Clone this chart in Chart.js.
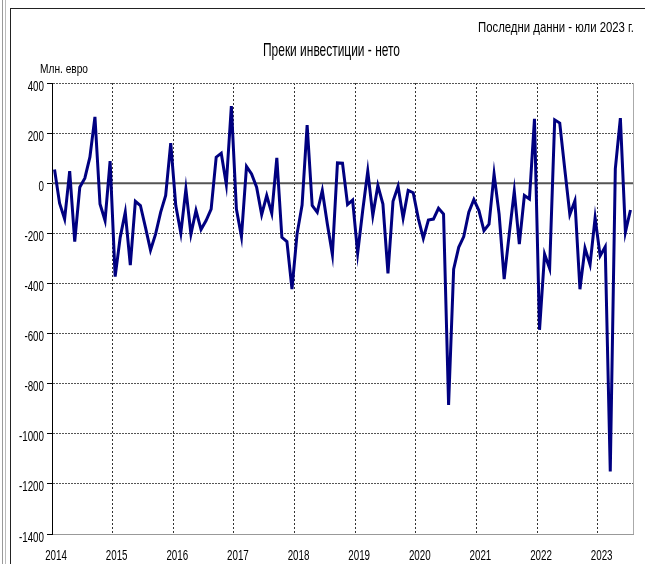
<!DOCTYPE html>
<html><head><meta charset="utf-8">
<script src="https://cdn.jsdelivr.net/npm/chart.js@4/dist/chart.umd.min.js"></script>
<style>
html,body{margin:0;padding:0;background:#fff;}
#wrap{position:relative;width:645px;height:564px;overflow:hidden;background:#fff;}
canvas{position:absolute;left:0;top:0;}
.t{position:absolute;font-family:"Liberation Sans",Arial,sans-serif;color:#000;white-space:nowrap;line-height:1;transform-origin:0 0;}
#frame{position:absolute;left:10px;top:8px;width:700px;height:700px;border-left:1px solid #222;border-top:1px solid #222;}
#edge{position:absolute;left:2px;top:0;width:2px;height:564px;border-left:1px solid #999;border-right:1px solid #bbb;}
</style></head>
<body><div id="wrap">
<div id="edge"></div><div id="frame"></div>
<canvas id="c" width="645" height="564"></canvas>
<div class="t" id="note" data-w="156" style="left:478px;top:19px;font-size:15px;">Последни данни - юли 2023 г.</div>
<div class="t" id="title" data-w="137" style="left:263px;top:40px;font-size:19px;">Преки инвестиции - нето</div>
<div class="t" id="unit" data-w="48" style="left:40px;top:62px;font-size:13px;">Млн. евро</div>
</div>
<script>
const years = ['2014','2015','2016','2017','2018','2019','2020','2021','2022','2023'];
const v2014 = [55, -80, -143, 48, -233, -16, 20, 104, 265, -83, -149, 88];
const v2015 = [-373, -216, -116, -327, -72, -89, -176, -267, -203, -116, -49, 160];
const v2016 = [-89, -199, -23, -203, -109, -185, -149, -103, 104, 120, -5, 308];
const v2017 = [-103, -213, 67, 37, -16, -125, -49, -120, 101, -216, -233, -423];
const v2018 = [-203, -87, 232, -89, -116, -29, -163, -285, 81, 80, -85, -67];
const v2019 = [-279, -109, 48, -129, -9, -83, -360, -72, -12, -139, -29, -38];
const v2020 = [-140, -220, -147, -143, -100, -123, -885, -343, -256, -213, -116, -65];
const v2021 = [-109, -189, -163, 37, -123, -383, -203, -32, -243, -49, -63, 257];
const v2022 = [-585, -283, -340, 253, 240, 55, -125, -70, -423, -259, -325, -138];
const v2023 = [-290, -254, -1150, 57, 260, -195, -107];
const yTicks = [400, 200, 0, -200, -400, -600, -800, -1000, -1200, -1400];

const series = [v2014,v2015,v2016,v2017,v2018,v2019,v2020,v2021,v2022,v2023];
const values = [].concat(...series);
const labels = [];
series.forEach((arr, yi) => arr.forEach((_, m) => labels.push(m === 0 ? years[yi] : '')));

const FONT = '"Liberation Sans", Arial, sans-serif';

(function(){
  const mc = document.createElement('canvas').getContext('2d');
  document.querySelectorAll('.t').forEach(el => {
    const fs = parseFloat(el.style.fontSize);
    mc.font = fs + 'px ' + FONT;
    const w = mc.measureText(el.textContent).width;
    el.style.transform = 'scaleX(' + (parseFloat(el.dataset.w) / w) + ')';
  });
})();

const SQ = 0.7;

const extras = {
  id: 'extras',
  beforeDatasetsDraw(chart) {
    const {ctx, chartArea: a, scales: {y}} = chart;
    ctx.save();
    const y0 = y.getPixelForValue(0);
    ctx.strokeStyle = '#555';
    ctx.lineWidth = 2;
    ctx.beginPath(); ctx.moveTo(a.left, y0); ctx.lineTo(a.right, y0); ctx.stroke();
    ctx.strokeStyle = '#aaa';
    ctx.lineWidth = 1;
    ctx.beginPath(); ctx.moveTo(a.right + 0.5, a.top); ctx.lineTo(a.right + 0.5, a.bottom); ctx.stroke();
    ctx.restore();
  },
  afterDraw(chart) {
    const {ctx, chartArea: a, scales: {x, y}} = chart;
    ctx.save();
    ctx.fillStyle = '#000';
    ctx.font = '14px ' + FONT;
    ctx.textBaseline = 'alphabetic';
    ctx.textAlign = 'right';
    yTicks.forEach(v => {
      const py = y.getPixelForValue(v);
      ctx.save();
      ctx.translate(a.left - 8, py + 7.5);
      ctx.scale(SQ, 1);
      ctx.fillText(String(v), 0, 0);
      ctx.restore();
    });
    ctx.textAlign = 'center';
    labels.forEach((lab, i) => {
      if (!lab) return;
      const px = x.getPixelForTick(i) + 1.5;
      ctx.save();
      ctx.translate(px, a.bottom + 26);
      ctx.scale(SQ, 1);
      ctx.fillText(lab, 0, 0);
      ctx.restore();
    });
    ctx.restore();
  }
};

new Chart(document.getElementById('c'), {
  type: 'line',
  data: { labels, datasets: [{
    data: values, borderColor: '#000080', borderWidth: 3, pointRadius: 0,
    tension: 0, fill: false
  }]},
  options: {
    responsive: false, animation: false, devicePixelRatio: 1,
    layout: { padding: { top: 83, right: 12, left: 0, bottom: 0 } },
    plugins: { legend: { display: false }, tooltip: { enabled: false }, title: { display: false } },
    scales: {
      x: {
        type: 'category', offset: true,
        afterFit(s) { s.height = 30; },
        grid: {
          offset: true, drawTicks: false, lineWidth: 1,
          color: (c) => (c.index > 0 && c.index % 12 === 0) ? '#333' : 'rgba(0,0,0,0)'
        },
        border: { display: true, color: '#999', width: 1, dash: [2, 2] },
        ticks: { display: false, autoSkip: false }
      },
      y: {
        min: -1400, max: 400,
        afterFit(s) { s.width = 52; },
        afterBuildTicks(s) { s.ticks = yTicks.map(v => ({ value: v })); },
        grid: { color: '#555', lineWidth: 1, drawTicks: true, tickLength: 5, tickColor: '#000' },
        border: { display: true, color: '#000', width: 1, dash: [2, 1] },
        ticks: { display: false }
      }
    }
  },
  plugins: [extras]
});
</script>
</body></html>
